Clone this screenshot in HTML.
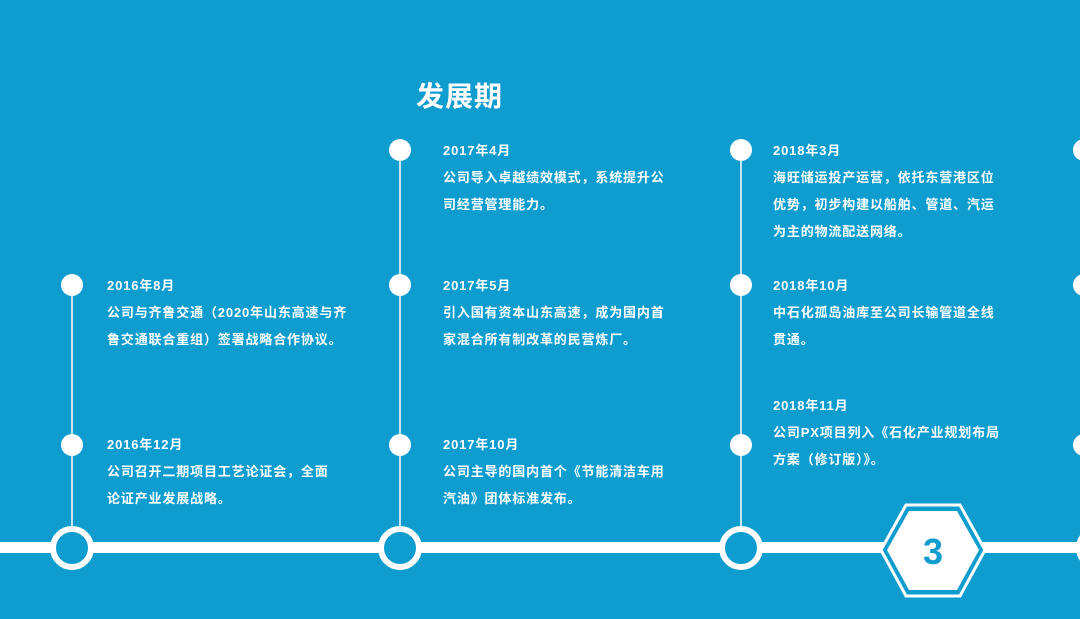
<!DOCTYPE html>
<html><head><meta charset="utf-8"><style>
html,body{margin:0;padding:0}
body{width:1080px;height:619px;background:#0f9ccf;overflow:hidden;position:relative;font-family:"Liberation Sans","Noto Sans CJK SC",sans-serif;color:#fff}
.t{position:absolute;font-size:13px;font-weight:bold;line-height:27px;white-space:nowrap;letter-spacing:0.85px}
.h{position:absolute;left:416px;top:75px;font-size:28px;font-weight:bold;letter-spacing:1px}
</style></head><body>
<svg width="1080" height="619" style="position:absolute;left:0;top:0">
<g stroke="#fff" stroke-width="1.5">
<line x1="72" y1="285" x2="72" y2="530"/>
<line x1="400" y1="150" x2="400" y2="530"/>
<line x1="741" y1="150" x2="741" y2="530"/>
</g>
<rect x="0" y="542" width="1080" height="11" fill="#fff"/>
<g fill="#fff">
<circle cx="72" cy="285" r="11"/><circle cx="72" cy="445" r="11"/>
<circle cx="400" cy="150" r="11"/><circle cx="400" cy="285" r="11"/><circle cx="400" cy="445" r="11"/>
<circle cx="741" cy="150" r="11"/><circle cx="741" cy="285" r="11"/><circle cx="741" cy="445" r="11"/>
<circle cx="1084" cy="150" r="11"/><circle cx="1084" cy="285" r="11"/><circle cx="1084" cy="445" r="11"/>
</g>
<g fill="#0f9ccf" stroke="#fff" stroke-width="6">
<circle cx="72" cy="548" r="19"/><circle cx="400" cy="548" r="19"/><circle cx="741" cy="548" r="19"/><circle cx="1098" cy="548" r="19"/>
</g>
<polygon points="906,505 960,505 985,550 960,596 906,596 881,550" fill="#0f9ccf" stroke="#fff" stroke-width="3"/>
<polygon points="909,511 957,511 979,550 957,590 909,590 887,550" fill="#fff"/>
<text x="933" y="564" text-anchor="middle" font-family="Liberation Sans" font-weight="bold" font-size="36" fill="#0f9ccf">3</text>
</svg>
<div class="h">发展期</div>
<div class="t" style="left:107px;top:272px">2016年8月<br>公司与齐鲁交通（2020年山东高速与齐<br>鲁交通联合重组）签署战略合作协议。</div>
<div class="t" style="left:107px;top:431px">2016年12月<br>公司召开二期项目工艺论证会，全面<br>论证产业发展战略。</div>
<div class="t" style="left:443px;top:137px">2017年4月<br>公司导入卓越绩效模式，系统提升公<br>司经营管理能力。</div>
<div class="t" style="left:443px;top:272px">2017年5月<br>引入国有资本山东高速，成为国内首<br>家混合所有制改革的民营炼厂。</div>
<div class="t" style="left:443px;top:431px">2017年10月<br>公司主导的国内首个《节能清洁车用<br>汽油》团体标准发布。</div>
<div class="t" style="left:773px;top:137px">2018年3月<br>海旺储运投产运营，依托东营港区位<br>优势，初步构建以船舶、管道、汽运<br>为主的物流配送网络。</div>
<div class="t" style="left:773px;top:272px">2018年10月<br>中石化孤岛油库至公司长输管道全线<br>贯通。</div>
<div class="t" style="left:773px;top:392px">2018年11月<br>公司PX项目列入《石化产业规划布局<br>方案（修订版）》。</div>
</body></html>
